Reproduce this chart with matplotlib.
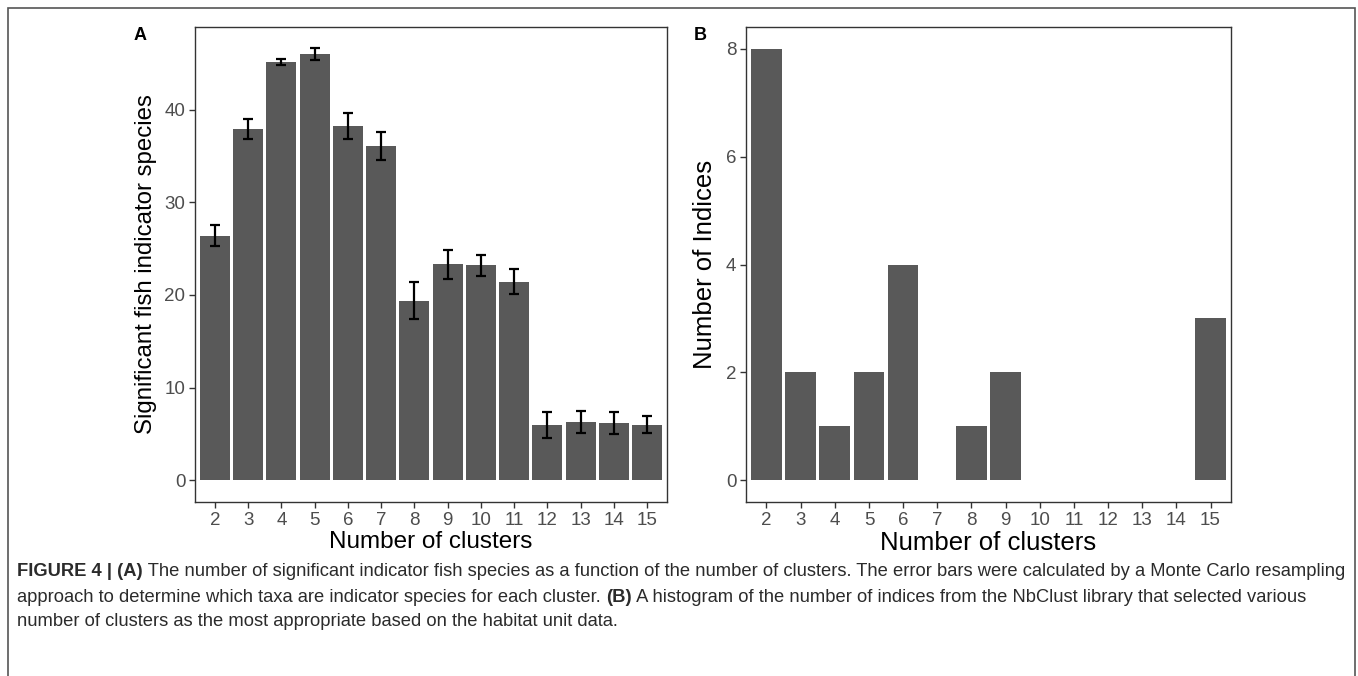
import matplotlib
matplotlib.use("Agg")
import matplotlib.pyplot as plt
from matplotlib.patches import Rectangle

plt.rcParams['font.family'] = ['Liberation Sans', 'DejaVu Sans']

# panel A: indicator species per number of clusters
clusters = ['2', '3', '4', '5', '6', '7', '8', '9', '10', '11', '12', '13', '14', '15']
species = [26.4, 37.9, 45.1, 46.0, 38.2, 36.1, 19.4, 23.3, 23.2, 21.4, 6.0, 6.3, 6.2, 6.0]
species_err = [1.15, 1.05, 0.35, 0.65, 1.4, 1.5, 2.0, 1.6, 1.15, 1.35, 1.4, 1.2, 1.2, 0.9]

# panel B: NbClust index votes
indices = [8, 2, 1, 2, 4, 0, 1, 2, 0, 0, 0, 0, 0, 3]

W, H = 1358, 676
fig = plt.figure(figsize=(W / 100, H / 100), dpi=100, facecolor='white')

def px_axes(l, r, t, b):
    return fig.add_axes([l / W, (H - b) / H, (r - l) / W, (b - t) / H])

bar_col = '#595959'
tick_col = '#4D4D4D'

def style(ax, lab_size):
    for s in ax.spines.values():
        s.set_color('#333333')
        s.set_linewidth(1.0)
    ax.tick_params(axis='both', colors='#333333', labelcolor=tick_col,
                   labelsize=13.5, length=4, width=1.0, pad=3)
    ax.set_xlim(-0.6, len(clusters) - 0.4)
    ax.set_xticks(range(len(clusters)))
    ax.set_xticklabels(clusters)
    ax.set_xlabel('Number of clusters', fontsize=lab_size, color='black', labelpad=2)

xs = range(len(clusters))

axA = px_axes(195, 667, 27, 502)
axA.bar(xs, species, width=0.9, color=bar_col, edgecolor='none')
axA.errorbar(xs, species, yerr=species_err, fmt='none', ecolor='black',
             elinewidth=1.6, capsize=3.5, capthick=1.6)
axA.set_ylim(-2.33, 48.9)
axA.set_yticks([0, 10, 20, 30, 40])
axA.set_ylabel('Significant fish indicator species', fontsize=17.3, labelpad=5)
style(axA, 17.5)

axB = px_axes(746, 1231, 27, 502)
axB.bar(xs, indices, width=0.9, color=bar_col, edgecolor='none')
axB.set_ylim(-0.4, 8.4)
axB.set_yticks([0, 2, 4, 6, 8])
axB.set_ylabel('Number of Indices', fontsize=18.5, labelpad=6)
style(axB, 18.5)

fig.text(140 / W, 1 - 36 / H, 'A', fontsize=13, fontweight='bold', ha='center', va='center')
fig.text(700 / W, 1 - 36 / H, 'B', fontsize=13, fontweight='bold', ha='center', va='center')

# outer frame
fig.patches.append(Rectangle((8 / W, -0.05), (1355 - 8) / W, 1.05 - 8 / H,
                             transform=fig.transFigure, fill=False,
                             edgecolor='#555555', linewidth=1.2))

# caption with bold fragments
cap_lines = [
    [('FIGURE 4 | (A)', True),
     (' The number of significant indicator fish species as a function of the number of clusters. '
      'The error bars were calculated by a Monte Carlo resampling', False)],
    [('approach to determine which taxa are indicator species for each cluster. ', False),
     ('(B)', True),
     (' A histogram of the number of indices from the NbClust library that selected various', False)],
    [('number of clusters as the most appropriate based on the habitat unit data.', False)],
]
cap_y = [572, 597, 622]
fig.canvas.draw()
renderer = fig.canvas.get_renderer()
for line, yy in zip(cap_lines, cap_y):
    x = 17
    for txt, bold in line:
        t = fig.text(x / W, 1 - yy / H, txt, fontsize=13.2, color='#2b2b2b',
                     fontweight='bold' if bold else 'normal', va='center', ha='left')
        bb = t.get_window_extent(renderer=renderer)
        x += bb.width

fig.savefig('out.png', dpi=100, facecolor='white')
